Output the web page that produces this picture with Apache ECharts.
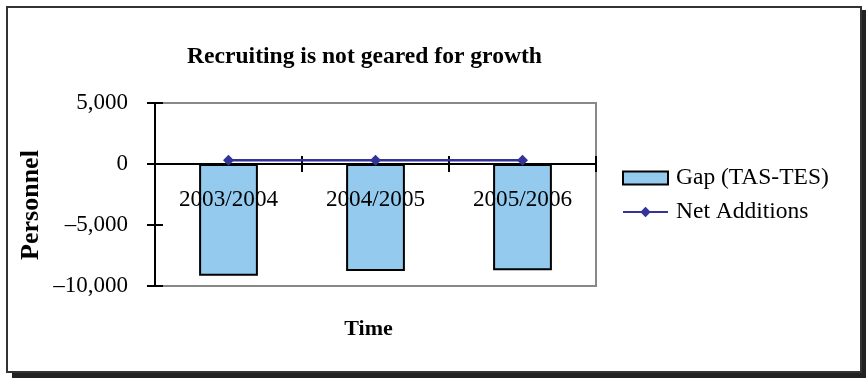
<!DOCTYPE html>
<html>
<head>
<meta charset="utf-8">
<script src="https://cdn.jsdelivr.net/npm/echarts@6/dist/echarts.min.js"></script>
<style>
html,body{margin:0;padding:0;background:#fff;}
#chart{width:866px;height:378px;}
</style>
</head>
<body>
<div id="chart"></div>
<script>
var categories = ['2003/2004', '2004/2005', '2005/2006'];
var gapValues = [-9170, -8780, -8700];
var netAdditions = [300, 300, 300];
var seriesNames = ['Gap (TAS-TES)', 'Net Additions'];
var yTicks = { min: -10000, max: 5000, interval: 5000 };
var titleText = 'Recruiting is not geared for growth';
var xAxisName = 'Time';
var yAxisName = 'Personnel';

var FONT = '"Liberation Serif", "Times New Roman", serif';

function fmt(v) {
  var s = Math.abs(v).toString().replace(/\B(?=(\d{3})+(?!\d))/g, ',');
  return (v < 0 ? '\u2013' : '') + s;
}

var chart = echarts.init(document.getElementById('chart'), null, { renderer: 'canvas' });
chart.setOption({
  animation: false,
  backgroundColor: '#fff',
  textStyle: { fontFamily: FONT, color: '#000' },
  graphic: [
    { type: 'rect', z: -10, silent: true, shape: { x: 12, y: 10, width: 854, height: 368 }, style: { fill: '#222' } },
    { type: 'rect', z: -9, silent: true, shape: { x: 7, y: 7, width: 854, height: 365 }, style: { fill: '#fff', stroke: '#333', lineWidth: 2 } }
  ],
  title: {
    text: titleText,
    left: 187, top: 45, padding: 0,
    textStyle: { fontFamily: FONT, fontSize: 23.6, fontWeight: 'bold', color: '#000' }
  },
  legend: {
    orient: 'vertical',
    left: 622, top: 166, padding: 0,
    itemWidth: 45, itemHeight: 13, itemGap: 10,
    data: [{ name: seriesNames[0], icon: 'rect' }, { name: seriesNames[1] }],
    textStyle: { fontFamily: FONT, fontSize: 23.5, color: '#000', padding: [0, 0, 0, 3] }
  },
  grid: {
    left: 155, right: 270, top: 103, bottom: 92,
    containLabel: false, outerBoundsMode: 'none',
    show: true, borderColor: '#888', borderWidth: 2, backgroundColor: 'transparent'
  },
  xAxis: [
    {
      type: 'category', data: categories, position: 'bottom', z: 5,
      axisLine: { onZero: true, lineStyle: { color: '#000', width: 2 } },
      axisTick: { show: true, inside: false, length: 8, lineStyle: { color: '#000', width: 2 } },
      axisLabel: { margin: -98, fontFamily: FONT, fontSize: 23.2, color: '#000' },
      name: xAxisName, nameLocation: 'middle', nameGap: 32, nameMoveOverlap: false,
      nameTextStyle: { fontFamily: FONT, fontSize: 22, fontWeight: 'bold', color: '#000', padding: [0, 14, 0, 0] },
      splitLine: { show: false }
    },
    {
      type: 'category', data: categories, position: 'top', z: 5,
      axisLine: { onZero: true, lineStyle: { color: '#000', width: 2 } },
      axisTick: { show: true, inside: false, length: 8, lineStyle: { color: '#000', width: 2 } },
      axisLabel: { show: false },
      splitLine: { show: false }
    }
  ],
  yAxis: [
    {
      type: 'value', position: 'left',
      min: yTicks.min, max: yTicks.max, interval: yTicks.interval,
      axisLine: { show: true, lineStyle: { color: '#000', width: 2 } },
      axisTick: { show: true, inside: false, length: 8, lineStyle: { color: '#000', width: 2 } },
      axisLabel: { margin: 27, fontFamily: FONT, fontSize: 23, color: '#000', formatter: fmt },
      splitLine: { show: false },
      name: yAxisName, nameLocation: 'middle', nameGap: 111, nameMoveOverlap: false,
      nameTextStyle: { fontFamily: FONT, fontSize: 26, fontWeight: 'bold', color: '#000', padding: [0, 21, 0, 0] }
    },
    {
      type: 'value', position: 'right', offset: -441,
      min: yTicks.min, max: yTicks.max, interval: yTicks.interval,
      axisLine: { show: false },
      axisTick: { show: true, inside: false, length: 8, lineStyle: { color: '#000', width: 2 } },
      axisLabel: { show: false },
      splitLine: { show: false }
    }
  ],
  series: [
    {
      name: seriesNames[0], type: 'bar', data: gapValues, barWidth: '40%',
      itemStyle: { color: '#94CAEE', borderColor: '#000', borderWidth: 2 }
    },
    {
      name: seriesNames[1], type: 'line', data: netAdditions,
      symbol: 'diamond', symbolSize: 11, showSymbol: true, z: 6,
      lineStyle: { color: '#333399', width: 2.5 },
      itemStyle: { color: '#333399' }
    }
  ]
});
</script>
</body>
</html>
